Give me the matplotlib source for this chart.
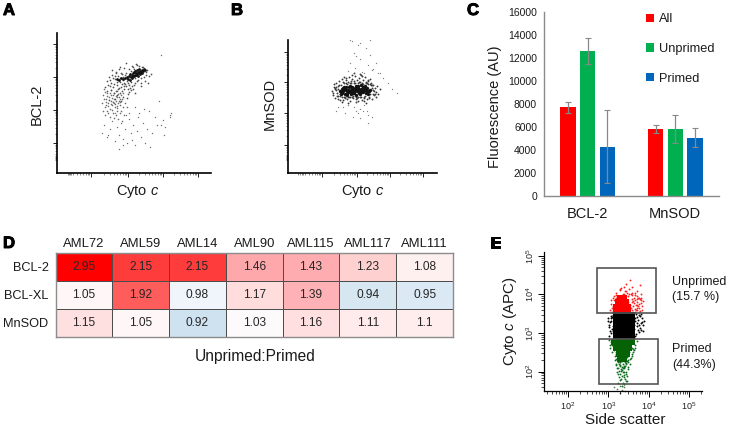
import numpy as np
import matplotlib
matplotlib.use("Agg")
import matplotlib.pyplot as plt
import matplotlib.patheffects as pe
from matplotlib.colors import LinearSegmentedColormap, Normalize
from matplotlib.patches import Rectangle
from matplotlib.ticker import LogLocator, FixedLocator, NullFormatter, FuncFormatter

plt.rcParams['font.family'] = ['Liberation Sans', 'DejaVu Sans']
plt.rcParams['mathtext.fontset'] = 'custom'
plt.rcParams['mathtext.rm'] = 'Liberation Sans'
plt.rcParams['mathtext.it'] = 'Liberation Sans:italic'
plt.rcParams['mathtext.default'] = 'regular'

# ---- Panel A (channel units) ----
a_core_x = [68,70,72,73,74,75,76,76,77,78,78,79,80,80,81,82,82,83,84,85,86,87,88,66,64,62,60,71,73,75,77,79,81,83,85]
a_core_y = [95,96,97,99,96,98,100,97,101,98,102,100,99,103,101,100,104,102,101,103,102,104,103,94,95,93,94,94,93,95,97,98,97,99,100]
a_up_x = [50,52,54,55,56,58,59,60,61,62,63,64,65,66,67,68,69,70,71,72,74,76,78,80,84,88,90,92,94,48,50,53,55,57,59,61,63,65,67,69,71,73,75,77,79,86,89,91,60,66,72,78,84,58,64,70,76,
          51,53,56,57,58,60,61,62,63,64,65,66,67,68,69,70,72,74,75,77,80,82,84,85,87,89,54,59,63,67,71,74,78,81]
a_up_y = [92,96,90,98,86,94,100,88,97,104,91,86,99,93,105,89,100,94,84,104,91,106,95,108,95,92,103,97,99,86,82,87,103,80,101,84,106,82,87,110,90,85,107,88,109,106,98,90,78,76,81,80,87,74,72,75,84,
          88,93,95,89,97,91,93,85,95,100,89,96,90,98,87,92,88,102,87,104,92,107,90,106,96,101,83,82,80,84,79,83,90,93]
a_low_x = [45,46,47,48,49,50,50,51,52,53,54,54,55,56,56,57,58,59,60,60,61,62,63,64,65,66,67,68,70,46,48,51,53,55,57,59,61,63,65,49,52,56,60,64,
           47,49,50,52,53,54,55,56,57,58,59,60,61,62,63,48,51,54,57,60,63,66]
a_low_y = [70,78,84,66,74,80,62,70,76,64,83,72,68,78,60,74,66,72,82,62,70,76,68,62,74,66,58,70,66,62,58,60,56,63,55,58,54,60,52,68,73,71,65,78,
           74,71,77,73,80,69,75,71,80,69,77,67,79,72,74,81,67,78,70,76,71,80]
a_sparse_x = [45,47,50,53,55,58,60,62,64,66,68,70,72,74,76,78,80,82,84,86,88,90,92,95,98,100,102,104,106,113,114,108,51,58,66,72,78,62,69,75,81,87,93,104,107,113]
a_sparse_y = [40,48,36,44,52,32,46,38,50,34,44,30,54,40,48,28,42,60,36,50,30,44,62,40,56,48,72,118,53,58,60,46,38,60,28,60,66,24,58,33,56,64,26,48,38,56]

# ---- Panel B (channel units) ----
b_core_x = [52,54,55,57,58,60,61,63,64,66,67,69,70,72,73,75,76,78,79,81,82,56,59,62,65,68,71,74,77,80,53,58,63,68,73,78,
            55,57,60,62,64,66,69,71,73,75,77,79,54,59,61,65,67,70,72,76]
b_core_y = [82,80,85,79,83,81,86,79,84,80,85,82,87,79,84,81,86,80,85,82,83,86,78,87,82,87,80,83,87,79,79,86,83,78,88,84,
            82,84,83,81,86,82,84,83,81,86,83,82,84,80,82,80,83,85,81,83]
b_mid_x = [44,45,46,47,48,49,50,50,51,52,53,54,55,56,57,58,59,60,61,62,63,64,65,66,67,68,69,70,71,72,73,74,75,76,77,78,79,80,81,82,83,84,85,86,87,88,89,90,92,46,48,52,56,60,64,68,72,76,80,84,88,50,54,58,62,66,70,74,78,82,86,
           47,49,51,53,55,57,59,61,63,65,67,69,71,73,75,77,79,81,83,85,48,52,56,60,64,68,72,76,80,84,50,54,58,62,66,70,74,78,82,45,47,85,87]
b_mid_y = [82,78,86,75,90,80,84,74,92,77,88,94,73,90,76,93,74,91,96,72,90,94,75,92,97,74,93,76,95,91,98,73,93,75,96,90,74,92,76,89,90,74,88,78,85,81,87,79,84,89,83,73,96,70,98,71,99,72,93,88,76,87,71,95,76,100,72,97,70,94,82,
           84,77,88,80,91,75,89,76,92,77,90,75,91,76,89,77,90,75,88,79,86,79,76,76,76,76,76,76,89,85,77,76,90,90,90,90,90,91,79,80,85,83,79]
b_sparse_x = [48,55,60,62,66,67,70,72,74,76,78,80,82,84,88,90,95,100,62,64,68,72,74,78,82,85,70,66,75,80,60,68,76,84,92,65,72,80,50,57,104,109,79,72]
b_sparse_y = [62,66,68,110,120,105,128,114,134,100,125,108,118,103,110,100,95,90,133,132,117,130,101,135,133,104,60,66,62,58,102,62,68,56,100,56,64,50,66,60,84,80,62,55]

# ---- Panel C ----
groups = ['BCL-2', 'MnSOD']
series = ['All', 'Unprimed', 'Primed']
means = {'All': [7700, 5850], 'Unprimed': [12650, 5850], 'Primed': [4250, 5050]}
err_low = {'All': [7200, 5500], 'Unprimed': [11500, 4600], 'Primed': [1100, 4250]}
err_high = {'All': [8200, 6150], 'Unprimed': [13750, 7050], 'Primed': [7500, 5900]}

# ---- Panel D ----
samples = ['AML72', 'AML59', 'AML14', 'AML90', 'AML115', 'AML117', 'AML111']
proteins = ['BCL-2', 'BCL-XL', 'MnSOD']
bcl2_ratio = [2.95, 2.15, 2.15, 1.46, 1.43, 1.23, 1.08]
bclxl_ratio = [1.05, 1.92, 0.98, 1.17, 1.39, 0.94, 0.95]
mnsod_ratio = [1.15, 1.05, 0.92, 1.03, 1.16, 1.11, 1.1]

# ---- Panel E (log10 units) ----
red_x = [3.05,3.08,3.1,3.12,3.15,3.18,3.2,3.22,3.25,3.28,3.3,3.32,3.35,3.38,3.4,3.42,3.45,3.48,3.5,3.52,3.55,3.58,3.6,3.62,3.65,3.68,3.7,3.72,3.75,3.78,3.8,3.83,3.86,3.54,3.79,3.45,3.6,3.3,3.4,3.5,3.66,3.7,3.75,3.8,3.1,3.14,3.2,3.26,3.34,3.44,3.55,3.62,3.72,3.78,3.84,
         3.57,3.6,3.64,3.67,3.7,3.73,3.76,3.8,3.58,3.63,3.68,3.74,3.6,3.65,3.7,3.56,3.62,3.66,3.72,3.77,3.82,3.12,3.16,3.2,3.07,3.13,3.18,3.52,3.47,3.42,3.37]
red_y = [3.6,3.75,3.55,3.9,3.68,3.82,4.05,3.6,3.95,4.12,3.72,4.18,3.58,4.0,4.2,3.85,4.1,3.65,3.95,4.15,3.55,3.88,4.05,3.7,3.98,3.6,4.08,3.8,3.92,3.58,4.0,3.7,3.82,4.38,4.25,4.28,4.2,4.15,3.7,3.8,3.85,3.66,3.55,3.78,3.65,3.85,3.9,3.78,3.92,3.6,3.72,3.55,3.6,3.88,3.6,
         3.65,3.6,3.78,3.55,3.72,3.9,3.66,3.85,3.8,3.92,3.74,3.7,3.98,3.62,3.88,4.02,3.82,4.05,3.97,3.75,3.9,3.7,3.6,3.72,3.85,3.95,3.98,4.0,4.05,4.08,4.02]
red_core_x = [3.2,3.3,3.4,3.5,3.2,3.3,3.4,3.5,3.24,3.34,3.44,3.28,3.38]
red_core_y = [3.56,3.56,3.56,3.56,3.68,3.68,3.68,3.68,3.8,3.8,3.8,3.92,3.92]
black_x = [3.0,3.02,3.04,3.06,3.08,3.1,3.12,3.14,3.16,3.18,3.0,3.03,3.06,3.09,3.12,3.15,3.02,3.05,3.08,3.11,3.14,3.17,3.62,3.64,3.66,3.68,3.7,3.72,3.74,3.76,3.78,3.8,3.82,3.84,3.86,3.88,3.65,3.69,3.73,3.77,3.81,3.85,3.63,3.67,3.71,3.75,3.79,3.83]
black_y = [3.4,3.2,3.05,3.45,3.3,3.1,3.48,2.95,3.25,3.38,3.3,3.15,3.0,3.42,3.18,3.35,2.92,3.28,3.38,3.05,3.5,3.12,3.45,3.1,3.3,2.98,3.42,3.18,3.35,3.02,3.45,3.25,3.08,3.4,3.2,3.32,2.92,3.5,3.08,3.22,3.5,3.05,3.2,3.38,3.25,3.48,3.12,3.28]
black_core_x = [3.22,3.34,3.46,3.56,3.22,3.34,3.46,3.56,3.22,3.34,3.46,3.56,3.22,3.34,3.46,3.56]
black_core_y = [2.95,2.95,2.95,2.95,3.12,3.12,3.12,3.12,3.29,3.29,3.29,3.29,3.45,3.45,3.45,3.45]
green_x = [3.02,3.05,3.08,3.7,3.67,3.64,3.1,3.13,3.16,3.62,3.58,3.55,3.18,3.2,3.22,3.53,3.5,3.48,3.24,3.27,3.3,3.33,3.36,3.39,3.42,3.45,3.47,3.25,3.3,3.35,3.4,3.44,3.3,3.34,3.38,3.42,3.28,3.32,3.36,3.4,3.12,3.16,3.2,3.24,3.28,3.34,3.4,3.46,3.5,3.56,3.6,3.2,3.26,3.32,3.38,3.44,3.5,3.22,3.28,3.34,3.4,3.46,
           3.05,3.1,3.15,3.66,3.62,3.58,3.52,3.47,3.43,3.39,3.35,3.31,3.27,3.23,3.2,3.16,3.25,3.3,3.36,3.42,3.48,3.26,3.32,3.38,3.44,3.28,3.33,3.37,3.41]
green_y = [2.82,2.7,2.78,2.8,2.7,2.55,2.52,2.62,2.4,2.58,2.45,2.32,2.2,2.34,2.1,2.2,2.08,2.3,1.95,2.02,1.78,2.12,1.7,1.92,1.82,2.0,1.88,1.72,1.95,2.05,2.15,1.75,2.25,2.3,1.85,2.28,2.15,2.38,2.2,2.1,2.75,2.65,2.45,2.28,2.4,2.42,2.36,2.38,2.42,2.35,2.62,2.52,2.3,2.02,1.98,2.22,2.25,2.0,2.25,1.62,1.68,1.75,
           2.62,2.68,2.55,2.62,2.5,2.4,2.52,2.28,2.2,2.12,2.28,2.08,2.2,2.25,2.18,2.3,2.1,2.18,1.98,2.14,2.12,1.85,1.8,1.68,1.95,2.32,1.9,2.1,2.24]
green_core_x = [3.14,3.26,3.38,3.5,3.6,3.2,3.3,3.4,3.52,3.26,3.36,3.46,3.3,3.4]
green_core_y = [2.78,2.78,2.78,2.78,2.78,2.62,2.62,2.62,2.62,2.46,2.46,2.46,2.32,2.32]
below_x = [3.15,3.22,3.3,3.38,3.42,3.35,3.28]
below_y = [1.6,1.55,1.62,1.6,1.5,1.52,1.45]
upper_gate_x = [525, 15500]
upper_gate_y = [3400, 49000]
lower_gate_x = [590, 17500]
lower_gate_y = [48, 690]

W, H = 730, 442
fig = plt.figure(figsize=(W / 100, H / 100), dpi=100, facecolor='white')


def ax_px(l, t, r, b):
    return fig.add_axes([l / W, 1 - b / H, (r - l) / W, (b - t) / H])


def ftext(x, y, s, **kw):
    kw.setdefault('ha', 'center')
    kw.setdefault('va', 'center')
    kw.setdefault('color', '#1a1a1a')
    return fig.text(x / W, 1 - y / H, s, **kw)


def decades(majors, step, low):
    out = []
    for m in majors:
        for k in range(2, 10):
            p = m - step + step * np.log10(k)
            if p > low:
                out.append(p)
    return out


def flow_axes(pos, xlim, ylim, xmaj, ymaj, xclump, yclump, step):
    ax = ax_px(*pos)
    ax.set_xlim(*xlim)
    ax.set_ylim(*ylim)
    for s in ('top', 'right'):
        ax.spines[s].set_visible(False)
    for s in ('left', 'bottom'):
        ax.spines[s].set_linewidth(1.2)
    ax.set_xticks(xmaj)
    ax.set_yticks(ymaj)
    ax.set_xticks(decades(xmaj, step, xclump[-1]) + xclump, minor=True)
    ax.set_yticks(decades(ymaj, step, yclump[-1]) + yclump, minor=True)
    ax.set_xticklabels([])
    ax.set_yticklabels([])
    ax.tick_params(which='major', length=3, width=0.7, color='#222222')
    ax.tick_params(which='minor', length=1.6, width=0.4, color='#333333')
    return ax


# Panel A
axA = flow_axes((57, 33, 211, 173), (0, 154), (0, 140), [34, 71, 106, 141], [30, 63, 96, 129],
                [11, 12, 13, 14], [13, 14, 15, 16, 17], 35)
axA.scatter(a_sparse_x, a_sparse_y, s=1.0, c='#707070', linewidths=0)
axA.scatter(a_low_x, a_low_y, s=1.3, c='#6a6a6a', linewidths=0)
axA.scatter(a_up_x, a_up_y, s=1.5, c='#505050', linewidths=0)
axA.scatter(a_core_x, a_core_y, s=4.0, c='#111111', linewidths=0)

# Panel B
axB = flow_axes((288, 40, 437, 173), (0, 149), (0, 133), [34, 69, 102, 135], [28, 60, 91, 121],
                [10, 12, 14, 15], [13, 14, 15, 16, 17], 33)
axB.scatter(b_sparse_x, b_sparse_y, s=0.9, c='#808080', linewidths=0)
axB.scatter(b_mid_x, b_mid_y, s=1.8, c='#3a3a3a', linewidths=0)
axB.scatter(b_core_x, b_core_y, s=6.0, c='#111111', linewidths=0)

ftext(37, 104, 'BCL-2', rotation=90, fontsize=10.5)
ftext(138, 191, r'Cyto $\mathit{c}$', fontsize=10.5)
ftext(270, 104, 'MnSOD', rotation=90, fontsize=10.5)
ftext(363, 191, r'Cyto $\mathit{c}$', fontsize=10.5)

# Panel C
axC = ax_px(544, 12, 719, 196)
bar_colors = {'All': '#ff0000', 'Unprimed': '#00b050', 'Primed': '#0066bb'}
offsets = {'All': -0.223, 'Unprimed': 0.0, 'Primed': 0.223}
xpos = np.arange(len(groups))
for name in series:
    x = xpos + offsets[name]
    axC.bar(x, means[name], width=0.177, color=bar_colors[name], label=name, linewidth=0)
    lo = np.array(means[name]) - np.array(err_low[name])
    hi = np.array(err_high[name]) - np.array(means[name])
    axC.errorbar(x, means[name], yerr=[lo, hi], fmt='none', ecolor='#888888', elinewidth=0.9,
                 capsize=2.2, capthick=0.8)
axC.set_xlim(-0.5, 1.5)
axC.set_ylim(0, 16000)
axC.set_yticks(np.arange(0, 16001, 2000))
axC.set_xticks(xpos)
axC.set_xticklabels(groups, fontsize=10.5, color='#1a1a1a')
axC.tick_params(axis='y', length=0, labelsize=7.5, pad=5, labelcolor='#1a1a1a')
axC.tick_params(axis='x', length=0, pad=8)
for s in ('top', 'right'):
    axC.spines[s].set_visible(False)
for s in ('left', 'bottom'):
    axC.spines[s].set_color('#8a8a8a')
    axC.spines[s].set_linewidth(1.0)
ftext(495, 107, 'Fluorescence (AU)', rotation=90, fontsize=10.5)
axC.legend(loc='upper left', bbox_to_anchor=(646 / W, 1 - 13.5 / H), bbox_transform=fig.transFigure,
           frameon=False, fontsize=9.2, handlelength=0.62, handleheight=0.62, handletextpad=0.42,
           labelspacing=1.38, borderpad=0, borderaxespad=0, labelcolor='#1a1a1a')

# Panel D
ratios = np.array([bcl2_ratio, bclxl_ratio, mnsod_ratio])
anchors = [(0.92, '#cfe2f0'), (0.94, '#d8e8f3'), (0.98, '#f2f7fb'), (1.03, '#fffbfb'), (1.05, '#fff6f6'),
           (1.10, '#ffecec'), (1.17, '#ffdcdc'), (1.23, '#ffd0d0'), (1.39, '#ffb2b6'), (1.46, '#ffa8ac'),
           (1.92, '#ff5c5c'), (2.15, '#ff3c3c'), (2.95, '#ff0000')]
norm = Normalize(0.92, 2.95)
cmap = LinearSegmentedColormap.from_list('ratio', [(norm(v), c) for v, c in anchors])
axD = ax_px(55.5, 253, 453, 336.7)
axD.pcolormesh(ratios, cmap=cmap, norm=norm, edgecolors='#4d4d4d', linewidth=0.6)
axD.invert_yaxis()
axD.xaxis.tick_top()
axD.set_xticks(np.arange(len(samples)) + 0.5)
axD.set_xticklabels(samples, fontsize=9.4, color='#1a1a1a')
axD.set_yticks(np.arange(len(proteins)) + 0.5)
axD.set_yticklabels(proteins, fontsize=9.2, color='#1a1a1a')
axD.tick_params(length=0)
axD.tick_params(axis='x', pad=2)
axD.tick_params(axis='y', pad=5)
for s in axD.spines.values():
    s.set_color('#8c8c8c')
    s.set_linewidth(1.0)
for r, row in enumerate(ratios):
    for c, v in enumerate(row):
        axD.text(c + 0.5, r + 0.5, f'{v:g}', ha='center', va='center', fontsize=8.6, color='#262626')
ftext(255.6, 357, 'Unprimed:Primed', fontsize=11.2)

# Panel E
axE = ax_px(544, 252, 702, 391)
axE.set_xscale('log')
axE.set_yscale('log')
axE.set_xlim(10 ** 1.41, 10 ** 5.32)
axE.set_ylim(10 ** 1.5, 10 ** 5.1)


def pts(ax, xs, ys, **kw):
    ax.scatter(10 ** np.array(xs), 10 ** np.array(ys), linewidths=0, **kw)


pts(axE, below_x, below_y, s=1.5, c='#5d7d5d', clip_on=False)
pts(axE, red_x, red_y, s=1.8, c='#ff2020')
pts(axE, red_core_x, red_core_y, s=18, c='#ff0000', marker='s')
pts(axE, green_x, green_y, s=1.8, c='#0d6e1c')
pts(axE, green_core_x, green_core_y, s=22, c='#056305', marker='s')
pts(axE, black_x, black_y, s=2.0, c='black')
pts(axE, black_core_x, black_core_y, s=26, c='black', marker='s')
for gx, gy in ((upper_gate_x, upper_gate_y), (lower_gate_x, lower_gate_y)):
    axE.add_patch(Rectangle((gx[0], gy[0]), gx[1] - gx[0], gy[1] - gy[0], fill=False,
                            edgecolor='#555555', linewidth=1.2, zorder=5))
for s in ('top', 'right'):
    axE.spines[s].set_visible(False)
for s in ('left', 'bottom'):
    axE.spines[s].set_linewidth(0.9)
for axis in (axE.xaxis, axE.yaxis):
    axis.set_major_locator(FixedLocator([1e2, 1e3, 1e4, 1e5]))
    axis.set_minor_locator(LogLocator(base=10, subs=np.arange(2, 10) * 0.1, numticks=10))
    axis.set_minor_formatter(NullFormatter())
    axis.set_major_formatter(FuncFormatter(lambda v, p: rf'$10^{{{int(round(np.log10(v)))}}}$'))
axE.tick_params(which='major', length=4, width=0.7, labelsize=6.5, pad=2, labelcolor='#222222')
axE.tick_params(axis='x', which='major', pad=3)
axE.tick_params(which='minor', length=2.4, width=0.5)
plt.setp(axE.get_yticklabels(), rotation=90, va='center')
ftext(625, 420, 'Side scatter', fontsize=11)
ftext(510, 321, r'Cyto $\mathit{c}$ (APC)', rotation=90, fontsize=11)
ftext(672, 282, 'Unprimed', ha='left', fontsize=9)
ftext(672, 297, '(15.7 %)', ha='left', fontsize=9)
ftext(672, 349, 'Primed', ha='left', fontsize=9)
ftext(672, 365, '(44.3%)', ha='left', fontsize=9)

# Panel letters
stroke = [pe.withStroke(linewidth=0.7, foreground='black')]
for (x, y, letter) in ((3, 15, 'A'), (231, 15, 'B'), (467, 15, 'C'), (3, 248, 'D'), (490, 248, 'E')):
    ftext(x, y, letter, ha='left', va='baseline', fontsize=12, fontweight='bold', color='black',
          path_effects=stroke)

fig.savefig('out.png', dpi=100)
